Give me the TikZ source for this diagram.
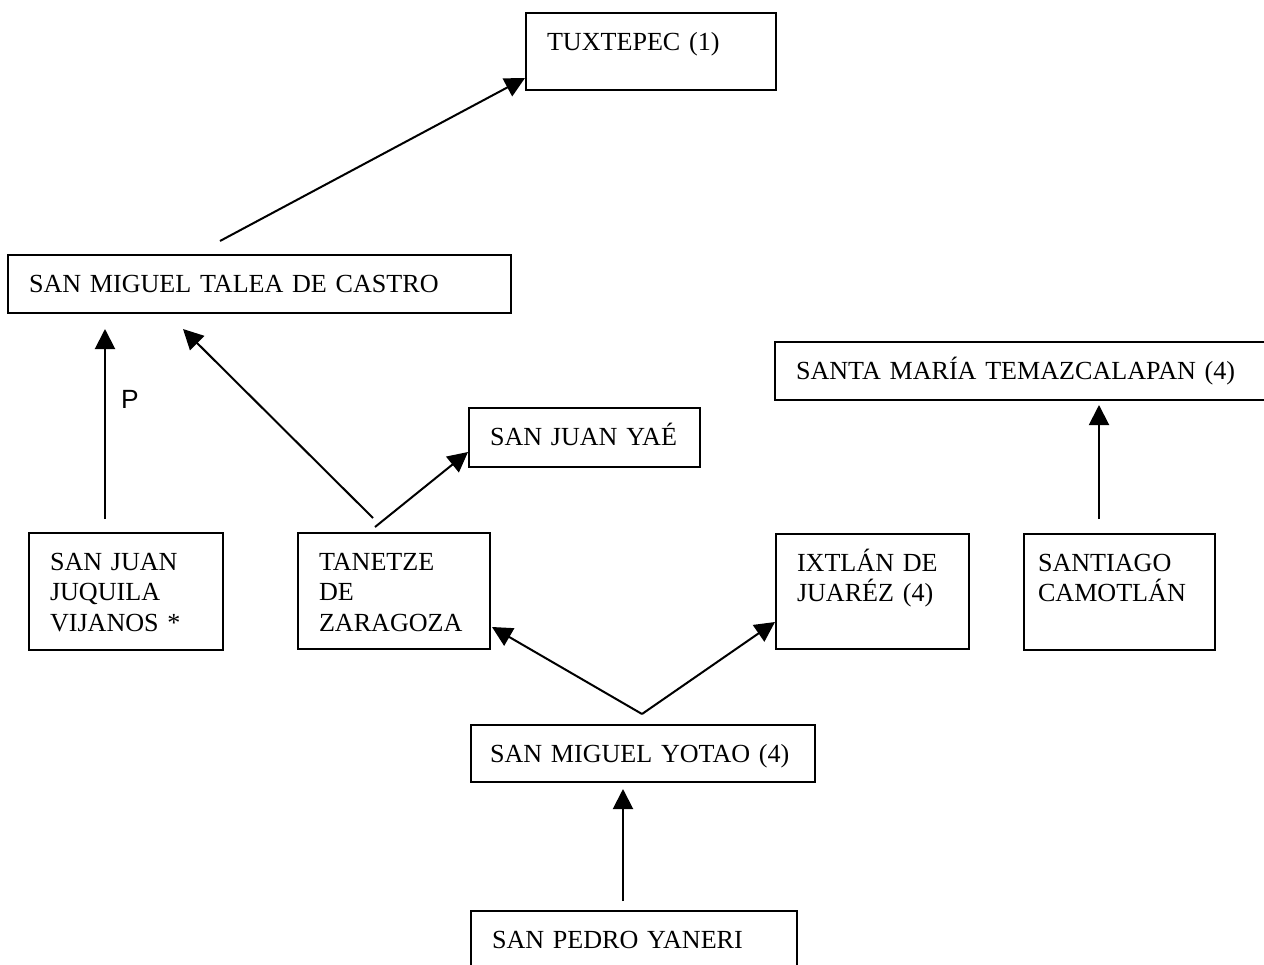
\documentclass[tikz,border=0pt]{standalone}
\usepackage{fontspec}
\setmainfont{Liberation Serif}
\newfontfamily\labelfont{Liberation Sans}
\usetikzlibrary{arrows.meta}

\tikzset{
	place/.style = {draw, line width=0.4mm, anchor=north west, align=left,
		inner xsep=4.2mm, inner ysep=0pt, text height=7.4mm,
		font=\fontsize{14.85}{17.6}\selectfont},
}

\begin{document}
\begin{tikzpicture}[x=0.2mm, y=-0.2mm, line width=0.4mm,
		>={Triangle[length=4mm,width=4mm]}]
		\clip (0,0) rectangle (1264,965);
		\node [place, text width=41.6mm, text depth=8mm] (tux) at (525,12) {TUXTEPEC (1)};
		\node [place, text width=92.2mm, text depth=4.2mm] (talea) at (7,254) {SAN MIGUEL TALEA DE CASTRO};
		\node [place, text width=91.6mm, text depth=4.2mm] (temaz) at (774,341) {SANTA MARÍA TEMAZCALAPAN (4)};
		\node [place, text width=37.8mm, text depth=4.4mm] (yae) at (468,407) {SAN JUAN YAÉ};
		\node [place, text width=30.4mm, text depth=16mm] (juq) at (28,532) {SAN JUAN\\ JUQUILA\\ VIJANOS *};
		\node [place, text width=30mm, text depth=15.8mm] (tan) at (297,532) {TANETZE\\ DE\\ ZARAGOZA};
		\node [place, text width=30.2mm, text depth=15.6mm] (ixt) at (775,533) {IXTLÁN DE\\ JUARÉZ (4)};
		\node [place, inner xsep=2.8mm, text width=32.6mm, text depth=15.8mm] (cam) at (1023,533) {SANTIAGO\\ CAMOTLÁN};
		\node [place, inner xsep=3.8mm, text width=61.2mm, text depth=4mm] (yot) at (470,724) {SAN MIGUEL YOTAO (4)};
		\node [place, text width=56.8mm, text depth=6.6mm] (yan) at (470,910) {SAN PEDRO YANERI};

		\path
		([shift={(213,-13)}]talea.north west) edge [->] ([shift={(0,-13)}]tux.south west)
		([shift={(77,-13)}]juq.north west) edge [->]
		node [right=3mm, pos=.63, inner sep=0pt, font=\labelfont\fontsize{15}{18}\selectfont] {P}
		([shift={(98,15)}]talea.south west)
		([shift={(76,-14)}]tan.north west) edge [->] ([shift={(176,15)}]talea.south west)
		([shift={(78,-5)}]tan.north west) edge [->] ([shift={(0,45)}]yae.north west)
		([shift={(172,-10)}]yot.north west) edge [->] ([shift={(1,-23)}]tan.south east)
		([shift={(172,-10)}]yot.north west) edge [->] ([shift={(0,-28)}]ixt.south west)
		([shift={(153,-9)}]yan.north west) edge [->] ([shift={(153,6)}]yot.south west)
		([shift={(76,-14)}]cam.north west) edge [->] ([shift={(325,4)}]temaz.south west);
\end{tikzpicture}
\end{document}
